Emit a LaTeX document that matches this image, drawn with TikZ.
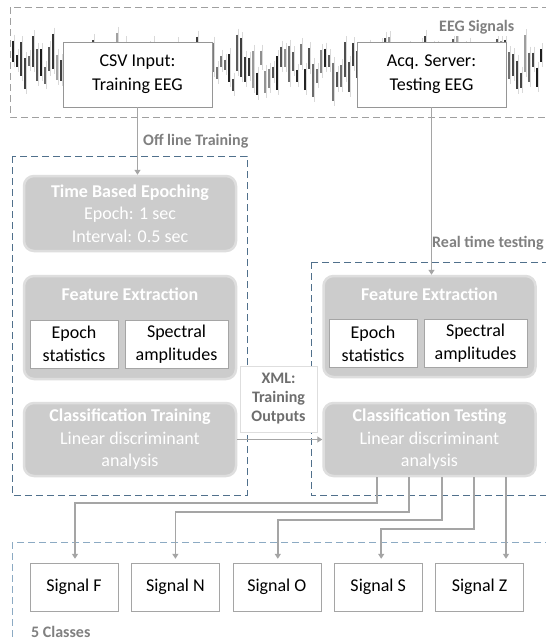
\documentclass[tikz,border=0pt]{standalone}
\usepackage{fontspec}
\setmainfont{Carlito}
\usetikzlibrary{chains}
\usetikzlibrary{positioning}
\usetikzlibrary{arrows.meta}
\definecolor{srcline}{RGB}{150,150,150}
\definecolor{featline}{RGB}{165,165,165}
\definecolor{stagefill}{RGB}{204,204,204}
\definecolor{stageline}{RGB}{222,222,222}
\definecolor{labelgray}{RGB}{128,128,128}
\definecolor{xmlgray}{RGB}{110,110,110}
\definecolor{flowgray}{RGB}{165,165,165}
\definecolor{phaseblue}{RGB}{80,112,140}
\definecolor{classblue}{RGB}{140,170,195}
\definecolor{eegline}{RGB}{160,160,160}

\begin{document}
\begin{tikzpicture}[
	x=1pt, y=-1pt,
	start chain=1 going right,
	node distance=13pt,
	every node/.style={font=\fontsize{18}{23}\selectfont, inner sep=0pt, align=center},
	src/.style={
		draw=srcline,
		fill=white,
		minimum width=149pt,
		minimum height=65pt,
		font=\fontsize{18}{24}\selectfont
		},
	stage/.style={
		rounded corners=10pt,
		draw=stageline,
		line width=2.5pt,
		fill=stagefill,
		text=white,
		minimum width=212pt,
		font=\fontsize{18}{22.5}\selectfont
		},
	stagetitle/.style={
		text=white,
		font=\fontsize{18}{22}\selectfont\bfseries
	},
	feat/.style={
		draw=featline,
		fill=white,
		minimum height=48pt
	},
	sig/.style={
		on chain=1,
		draw=featline,
		fill=white,
		minimum width=88pt,
		minimum height=48pt
	},
	tag/.style={
		text=labelgray,
		anchor=west,
		font=\fontsize{16}{19}\selectfont\bfseries
	},
	flow/.style={
		draw=flowgray,
		line width=1.8pt,
		-{Triangle[length=5pt,width=6pt]}
	},
	phase/.style={
		draw=phaseblue,
		dash pattern=on 7pt off 4pt,
		line width=0.8pt
	}
]
\clip (0,0) rectangle (546,641);
\fill[white] (0,0) rectangle (546,641);

% EEG trace
\pgfmathsetseed{23}
\foreach \i in {0,...,132}{
	\pgfmathsetmacro{\xx}{13+4*\i}
	\pgfmathsetmacro{\yc}{68+17*rand}
	\pgfmathsetmacro{\hh}{5+15*rnd}
	\pgfmathtruncatemacro{\sh}{35+55*rnd}
	\draw[black!\sh, line width=2.4pt] (\xx,\yc-\hh) -- (\xx,\yc+\hh);
	\draw[black!15, line width=1pt] (\xx+1.5,\yc-\hh-6) -- (\xx+1.5,\yc+\hh+5);
}

% Frames
\draw[draw=eegline, dash pattern=on 7pt off 4pt, line width=0.8pt] (10,7) rectangle (560,117);
\draw[phase] (12,156) rectangle (247,495);
\draw[phase] (311,262) rectangle (560,495);
\draw[draw=classblue, dash pattern=on 7pt off 4pt, line width=0.8pt] (12,542) rectangle (560,660);

% Sources
\node [src] (csv) at (137.5,74.5) {CSV Input:\\Training EEG};
\node [src] (acq) at (431.5,74.5) {Acq. Server:\\Testing EEG};
\node [tag, fill=white, inner sep=2pt] (eeglbl) at (437,27) {EEG Signals};

% Off line training
\node [stage, minimum height=75pt] (epoch) at (130,213.5) {\textbf{Time Based Epoching}\\Epoch: 1 sec\\Interval: 0.5 sec};
\node [stage, minimum height=103pt] (featL) at (130,327.5) {};
\node [stagetitle] (featLtitle) at ([yshift=-19pt]featL.north) {Feature Extraction};
\node [feat, minimum width=88pt] (epochL) at (74,344) {Epoch\\statistics};
\node [feat, minimum width=103pt] (specL) at (176.5,344) {Spectral\\amplitudes};
\node [stage, minimum height=73pt] (classL) at (130,439.5) {\textbf{Classification Training}\\Linear discriminant\\analysis};

% Real time testing
\node [stage, minimum height=101pt] (featR) at (429.5,326.5) {};
\node [stagetitle] (featRtitle) at ([yshift=-19pt]featR.north) {Feature Extraction};
\node [feat, minimum width=88pt] (epochR) at (373,343.5) {Epoch\\statistics};
\node [feat, minimum width=103pt] (specR) at (475.5,343.5) {Spectral\\amplitudes};
\node [stage, minimum height=73pt] (classR) at (429.5,439.5) {\textbf{Classification Testing}\\Linear discriminant\\analysis};

\node [draw=stageline, fill=white, line width=1pt, minimum width=77pt, minimum height=66pt, text=xmlgray, font=\fontsize{16}{19}\selectfont\bfseries] (xml) at (278.5,399) {XML:\\Training\\Outputs};

% Classes
\node [sig] (sigF) at (74,587) {Signal F};
\node [sig] (sigN) {Signal N};
\node [sig] (sigO) {Signal O};
\node [sig] (sigS) {Signal S};
\node [sig] (sigZ) {Signal Z};
\node [tag] (classlbl) at (31,632) {5 Classes};

% Connectors
\draw [flow] (csv.south) -- (csv.south |- epoch.north);
\node [tag] (offlbl) at (143,141) {Off line Training};
\draw [flow] (acq.south) -- (acq.south |- featR.north);
\node [tag] (rtlbl) at (432,243) {Real time testing};
\draw [flow] (classL.east) -- (classR.west);

\draw [flow, shorten >=4pt] ([xshift=-52.5pt]classR.south) -- ++(0,26) -| ([xshift=1pt]sigF.north);
\draw [flow, shorten >=4pt] ([xshift=-20.5pt]classR.south) -- ++(0,35) -| (sigN.north);
\draw [flow, shorten >=4pt] ([xshift=12.5pt]classR.south) -- ++(0,43) -| ([xshift=1pt]sigO.north);
\draw [flow, shorten >=4pt] ([xshift=44.5pt]classR.south) -- ++(0,52) -| ([xshift=3pt]sigS.north);
\draw [flow, shorten >=4pt] ([xshift=76.5pt]classR.south) -- ([xshift=76.5pt]classR.south |- sigZ.north);
\end{tikzpicture}
\end{document}
